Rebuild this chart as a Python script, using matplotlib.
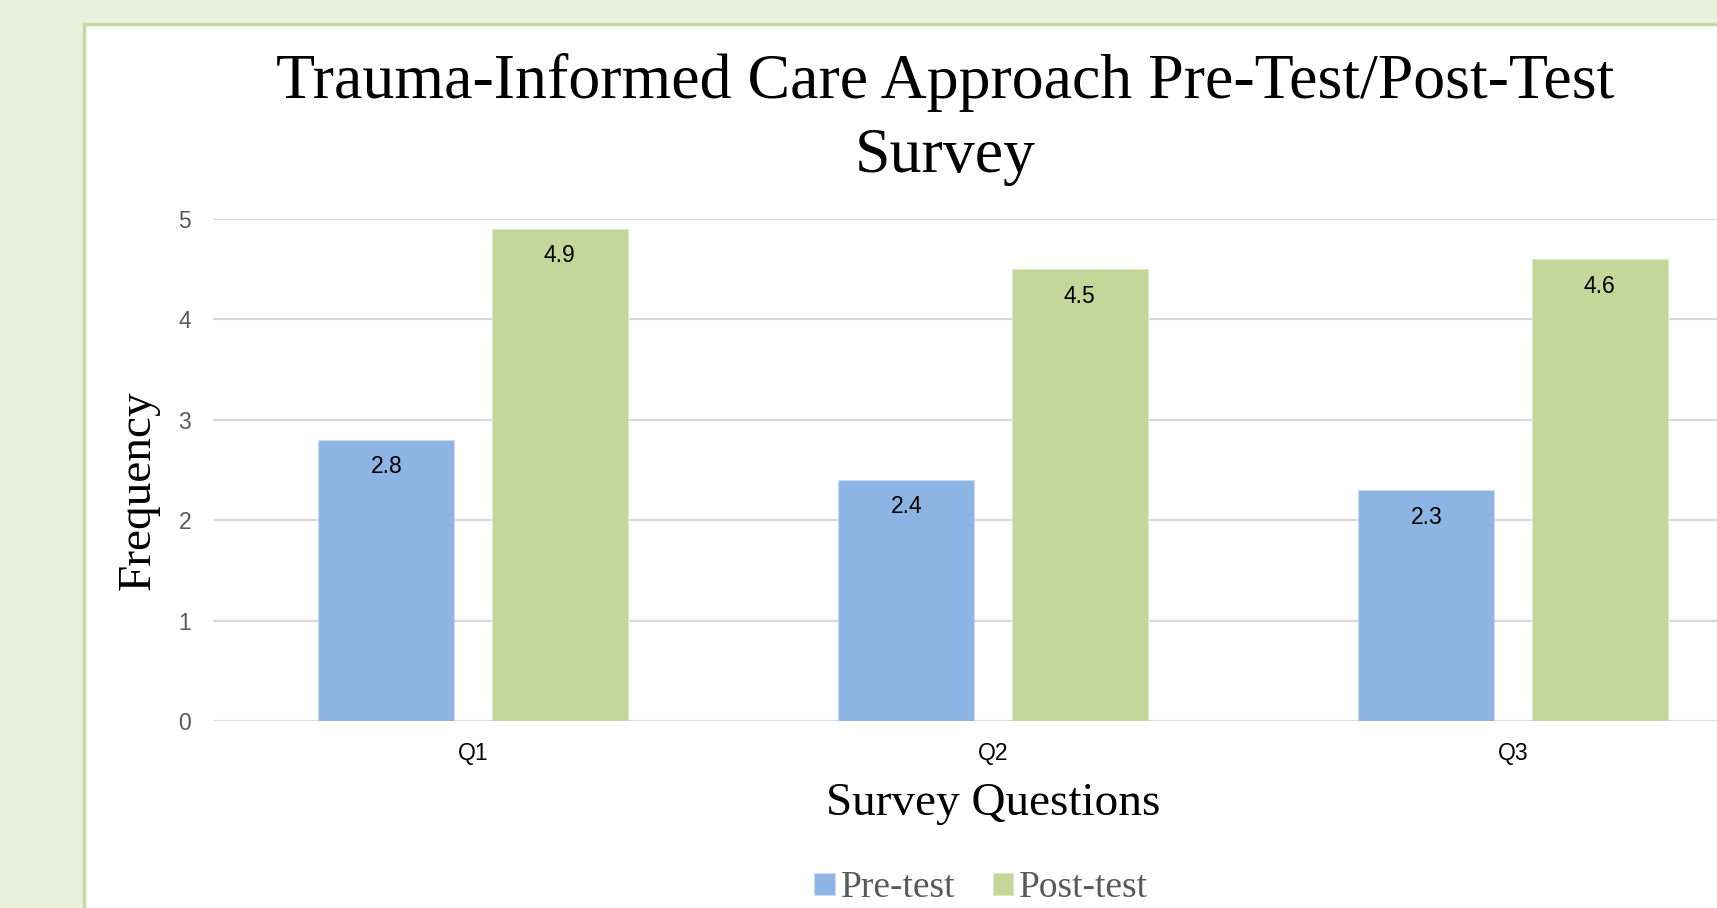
import numpy as np
import matplotlib.pyplot as plt
from matplotlib.patches import Rectangle

# data
questions = ['Q1', 'Q2', 'Q3']
pre_test = [2.8, 2.4, 2.3]
post_test = [4.9, 4.5, 4.6]
y_ticks = [0, 1, 2, 3, 4, 5]

W, H = 1717, 908
fig = plt.figure(figsize=(W / 100, H / 100), dpi=100)
fig.patch.set_facecolor('#EBF0DE')

# white slide panel with a thin green border
panel = Rectangle((84 / W, -0.05), 1.0, (908 - 24) / H + 0.05,
                  transform=fig.transFigure, facecolor='white',
                  edgecolor='#C6DAA2', linewidth=2.5, zorder=-10)
fig.patches.append(panel)

# the plot area runs past the right edge of the slide
ax = fig.add_axes([213 / W, (H - 721) / H, 1560 / W, 502 / H])
ax.set_facecolor('none')

x = np.arange(len(questions))
bw = 0.2615
off = 0.1665
b1 = ax.bar(x - off, pre_test, bw, color='#8EB4E3', edgecolor='#C9DCF3',
            linewidth=0.8, label='Pre-test', zorder=3)
b2 = ax.bar(x + off, post_test, bw, color='#C4D79B', edgecolor='#DCE8C4',
            linewidth=0.8, label='Post-test', zorder=3)

for bars in (b1, b2):
    for r in bars:
        ax.annotate(f'{r.get_height():.1f}',
                    (r.get_x() + r.get_width() / 2, r.get_height()),
                    xytext=(0, -19.4), textcoords='offset points',
                    ha='center', va='center', fontsize=16.5,
                    family='Liberation Sans', color='black', zorder=4)

ax.set_xlim(-0.5, 2.5)
ax.set_ylim(0, 5)
ax.set_yticks(y_ticks)
ax.set_xticks(x)
ax.set_xticklabels(questions)
ax.yaxis.grid(True, color='#D9D9D9', linewidth=1.6, zorder=0)
ax.set_axisbelow(True)
for s in ax.spines.values():
    s.set_visible(False)
ax.axhline(0, color='#D9D9D9', linewidth=2, zorder=2)
ax.tick_params(axis='both', length=0)
ax.tick_params(axis='y', pad=15.6, labelsize=16.5, labelcolor='#595959')
ax.tick_params(axis='x', pad=14.8, labelsize=16.5, labelcolor='black')
for t in ax.get_xticklabels() + ax.get_yticklabels():
    t.set_family('Liberation Sans')

ax.set_xlabel('Survey Questions', family='Liberation Serif', fontsize=34,
              labelpad=13)
ax.set_ylabel('Frequency', family='Liberation Serif', fontsize=34,
              labelpad=8)
ax.yaxis.set_label_coords(-0.034, 0.46)

fig.text(945 / W, (H - 119.5) / H,
         'Trauma-Informed Care Approach Pre-Test/Post-Test\nSurvey',
         ha='center', va='center', family='Liberation Serif', fontsize=46,
         linespacing=1.35)

fig.legend(handles=[b1, b2], labels=['Pre-test', 'Post-test'],
           loc='center', bbox_to_anchor=(981 / W, (H - 888) / H), ncol=2,
           frameon=False, prop={'family': 'Liberation Serif', 'size': 27},
           labelcolor='#595959', handlelength=0.55, handleheight=0.55,
           handletextpad=0.15, columnspacing=1.0)

fig.savefig('out.png', dpi=100, facecolor=fig.get_facecolor())
